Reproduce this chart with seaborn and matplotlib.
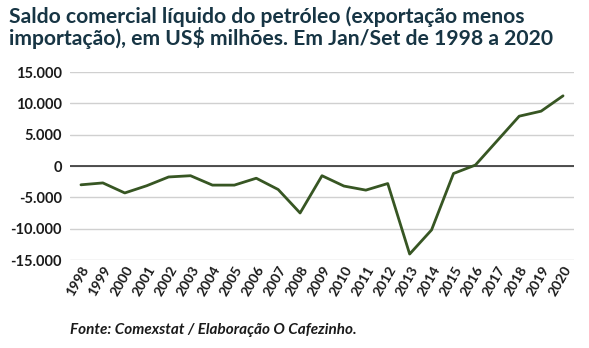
import matplotlib
matplotlib.use("Agg")
import matplotlib.pyplot as plt
import seaborn as sns
import pandas as pd
from matplotlib.ticker import FuncFormatter

years = [str(y) for y in range(1998, 2021)]
saldo = [-3000, -2700, -4300, -3150, -1750, -1550, -3050, -3050, -1950, -3750,
         -7500, -1550, -3200, -3850, -2800, -14050, -10200, -1200, 150, 4050,
         7950, 8750, 11200]

df = pd.DataFrame({"pos": range(len(years)), "ano": years, "saldo": saldo})

sns.set_theme(style="white")
plt.rcParams['font.family'] = ['Lato', 'DejaVu Sans']

fig = plt.figure(figsize=(5.89, 3.48), dpi=100)
ax = fig.add_axes([70/589, 1-260/348, (574-70)/589, (260-72)/348])

sns.lineplot(data=df, x="pos", y="saldo", ax=ax, color="#375623", linewidth=2)

ax.set_xlim(-0.5, len(years)-0.5)
ax.set_ylim(-15000, 15000)
ax.set_yticks(range(-15000, 15001, 5000))
ax.yaxis.set_major_formatter(FuncFormatter(lambda v, p: f"{int(v):,}".replace(",", ".")))
ax.set_xticks(range(len(years)))
ax.set_xticklabels(years, rotation=60, ha="right", rotation_mode="anchor",
                   fontsize=10, fontweight="bold", color="#1a1a1a")
for lab in ax.get_yticklabels():
    lab.set_fontsize(10.5)
    lab.set_fontweight("bold")
    lab.set_color("#1a1a1a")
ax.tick_params(axis="both", length=0, pad=6)
ax.tick_params(axis="x", pad=3)
ax.grid(axis="y", color="#d0d0d0", linewidth=1)
ax.axhline(0, color="#333333", linewidth=1.2, zorder=1)
for s in ax.spines.values():
    s.set_visible(False)
ax.set_xlabel("")
ax.set_ylabel("")

fig.text(9/589, 1-6/348,
         "Saldo comercial líquido do petróleo (exportação menos\nimportação), em US$ milhões. Em Jan/Set de 1998 a 2020",
         ha="left", va="top", fontsize=15.2, fontweight="bold", color="#173544", linespacing=1.0)
fig.text(70/589, 1-330/348, "Fonte: Comexstat / Elaboração O Cafezinho.",
         ha="left", va="center", fontsize=11, fontstyle="italic", fontweight="bold", color="#1a1a1a")

fig.savefig("out.png", dpi=100)
